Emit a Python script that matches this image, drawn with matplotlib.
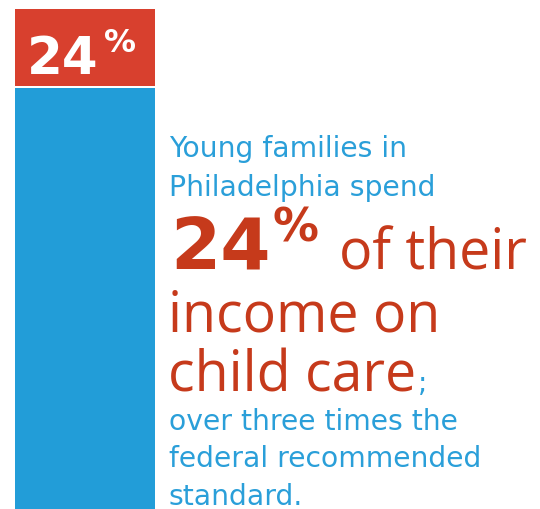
import matplotlib
matplotlib.use("Agg")
import matplotlib.pyplot as plt

# DATA
share_pct = 24
bar_segments = ["rest of income", "child care"]
bar_heights = [84.2, 15.4]          # share of the drawn bar (top part is the label box)
intro_lines = ["Young families in", "Philadelphia spend"]
big_lines = ["of their", "income on", "child care"]
outro_lines = ["over three times the", "federal recommended", "standard."]

# COLORES
BLUE = "#229DD8"
BOX_RED = "#D8402E"
TEXT_RED = "#C63A1B"
TXT_BLUE = "#2A9FD9"

W, H = 540, 510
fig = plt.figure(figsize=(W / 100, H / 100), dpi=100)
fig.patch.set_facecolor("white")


def fx(px):
    return px / W


def fy(py):
    return 1 - py / H


# ---- BARRA ----
ax = fig.add_axes([fx(15), 0, 140 / W, 500 / H])
ax.bar([0], [bar_heights[0]], width=1, color=BLUE, linewidth=0)
ax.bar([0], [bar_heights[1]], bottom=[bar_heights[0] + 0.4], width=1,
       color=BOX_RED, linewidth=0)
ax.set_xlim(-0.5, 0.5)
ax.set_ylim(0, 100)
ax.axis("off")

renderer = fig.canvas.get_renderer()


def right_edge(t):
    bb = t.get_window_extent(renderer=renderer)
    return bb.x1 / W


# etiqueta blanca dentro del recuadro rojo
t = fig.text(fx(27), fy(74), str(share_pct), color="white", fontsize=37,
             fontweight="bold", family="DejaVu Sans", va="baseline")
fig.text(right_edge(t) + fx(5), fy(28), "%", color="white", fontsize=23,
         fontweight="bold", family="DejaVu Sans", va="top")

# ---- TEXTO ----
blue_kw = dict(color=TXT_BLUE, fontsize=20.3, family="DejaVu Sans", va="baseline")
red_kw = dict(color=TEXT_RED, fontsize=40, family="Open Sans", va="baseline")

for i, line in enumerate(intro_lines):
    fig.text(fx(169), fy(157 + 39 * i), line, **blue_kw)

t = fig.text(fx(170), fy(270), str(share_pct), color=TEXT_RED, fontsize=52,
             fontweight="bold", family="DejaVu Sans", va="baseline")
t2 = fig.text(right_edge(t) + fx(2), fy(207), "%", color=TEXT_RED, fontsize=33,
              fontweight="bold", family="DejaVu Sans", va="top")
fig.text(right_edge(t2) + fx(20), fy(270), big_lines[0], **red_kw)

fig.text(fx(168), fy(332), big_lines[1], **red_kw)
t = fig.text(fx(168), fy(392), big_lines[2], **red_kw)
fig.text(right_edge(t) + fx(2), fy(392), ";", **blue_kw)

for i, line in enumerate(outro_lines):
    fig.text(fx(169), fy(430 + 37.5 * i), line, **blue_kw)

fig.savefig("out.png", dpi=100)
